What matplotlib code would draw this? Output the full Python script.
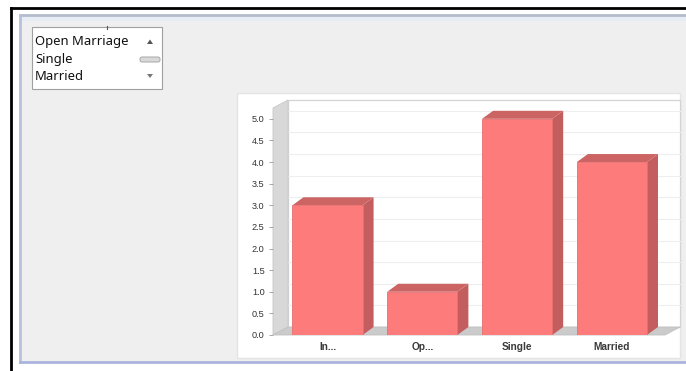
import matplotlib
matplotlib.use("Agg")
import matplotlib.pyplot as plt
from matplotlib.patches import Rectangle, Polygon, FancyBboxPatch

# ---- data ----
categories = ["In...", "Op...", "Single", "Married"]
values = [3.0, 1.0, 5.0, 4.0]
y_ticks = [0.0, 0.5, 1.0, 1.5, 2.0, 2.5, 3.0, 3.5, 4.0, 4.5, 5.0]
list_items = ["Open Marriage", "Single", "Married"]

W, H = 686, 371
fig = plt.figure(figsize=(W / 100, H / 100), dpi=100)
fig.patch.set_facecolor("white")

# ---- UI chrome (pixel coordinates) ----
bg = fig.add_axes([0, 0, 1, 1])
bg.set_xlim(0, W)
bg.set_ylim(H, 0)
bg.axis("off")

# panel
bg.add_patch(Rectangle((20, 15), W - 20, 347, facecolor="#efefef", edgecolor="none"))
bg.add_patch(Rectangle((20, 15), W - 20, 6, facecolor="#e6edf5", edgecolor="none"))
bg.plot([20, W], [15, 15], color="#b4bccb", lw=2)
bg.plot([20, 20], [15, 362], color="#b8c0dc", lw=2)
bg.plot([20, W], [362, 362], color="#aab4dc", lw=2)
# outer black frame
bg.plot([11, W], [7.5, 7.5], color="black", lw=2)
bg.plot([11, 11], [7.5, H], color="black", lw=2)

# listbox
bg.add_patch(Rectangle((32, 27), 130, 62, facecolor="white", edgecolor="#a0a0a0", lw=0.8))
bg.plot([107, 107], [26, 29], color="#555555", lw=0.8)
for i, item in enumerate(list_items):
    bg.text(35, 42 + i * 17.5, item, fontsize=9.4, family="Noto Sans", color="#111111",
            va="center", ha="left")
bg.add_patch(Polygon([[147, 44], [153, 44], [150, 39.5]], closed=True, facecolor="#555555", edgecolor="none"))
bg.add_patch(Polygon([[147, 74], [153, 74], [150, 78]], closed=True, facecolor="#777777", edgecolor="none"))
bg.add_patch(FancyBboxPatch((140, 57), 20, 5, boxstyle="round,pad=0,rounding_size=2",
                            facecolor="#d9d9d9", edgecolor="#a8a8a8", lw=0.7))

# chart white box
bg.add_patch(Rectangle((237, 93), 443, 265, facecolor="white", edgecolor="#e4e4e4", lw=1))

# ---- chart axes ----
x_left_px, x_right_px = 273, 665
y0_px, ytop_px = 335, 108
ax = fig.add_axes([x_left_px / W, (H - y0_px) / H,
                   (x_right_px - x_left_px) / W, (y0_px - ytop_px) / H])
xmin, xmax = -0.575, 3.56
ymin, ymax = 0.0, 5.25
ax.set_xlim(xmin, xmax)
ax.set_ylim(ymin, ymax)
ax.patch.set_alpha(0)
for s in ax.spines.values():
    s.set_visible(False)

px_x = (x_right_px - x_left_px) / (xmax - xmin)   # pixels per x unit
px_y = (y0_px - ytop_px) / (ymax - ymin)           # pixels per y unit
wdx, wdy = 15 / px_x, 8 / px_y   # wall depth
bdx, bdy = 11 / px_x, 8 / px_y   # bar depth

# back wall
ax.add_patch(Rectangle((xmin + wdx, ymin + wdy), xmax - xmin, ymax - ymin,
                       facecolor="white", edgecolor="#d4d4d4", lw=0.9, clip_on=False, zorder=0))
for t in y_ticks[1:]:
    ax.plot([xmin + wdx, xmax + wdx], [t + wdy, t + wdy], color="#eeeeee", lw=0.8,
            clip_on=False, zorder=0.5)
# side wall
ax.add_patch(Polygon([[xmin, ymin], [xmin, ymax], [xmin + wdx, ymax + wdy], [xmin + wdx, ymin + wdy]],
                     closed=True, facecolor="#d8d8d8", edgecolor="#c8c8c8", lw=0.6,
                     clip_on=False, zorder=1))
# floor
ax.add_patch(Polygon([[xmin, ymin], [xmax, ymin], [xmax + wdx, ymin + wdy], [xmin + wdx, ymin + wdy]],
                     closed=True, facecolor="#cbcbcb", edgecolor="#c0c0c0", lw=0.6,
                     clip_on=False, zorder=1))

# bars
bw = 0.74
xs = list(range(len(categories)))
ax.bar(xs, values, width=bw, color="#fd7b7b", edgecolor="#e86e6e", lw=0.6, zorder=3)
for x, v in zip(xs, values):
    l, r = x - bw / 2, x + bw / 2
    ax.add_patch(Polygon([[r, 0], [r + bdx, bdy], [r + bdx, v + bdy], [r, v]], closed=True,
                         facecolor="#c45e5e", edgecolor="none", clip_on=False, zorder=2.5))
    ax.add_patch(Polygon([[l, v], [r, v], [r + bdx, v + bdy], [l + bdx, v + bdy]], closed=True,
                         facecolor="#cc6464", edgecolor="none", clip_on=False, zorder=2.5))

ax.set_yticks(y_ticks)
ax.set_yticklabels([f"{t:.1f}" for t in y_ticks], fontsize=6.6, family="Liberation Sans", color="#333333")
ax.tick_params(axis="y", length=3, width=0.6, color="#999999", pad=3)
ax.set_xticks(xs)
ax.set_xticklabels(categories, fontsize=7.3, family="Liberation Sans", fontweight="bold", color="#3a3a3a")
ax.tick_params(axis="x", length=0, pad=5)

fig.savefig("out.png", dpi=100, facecolor=fig.get_facecolor())
